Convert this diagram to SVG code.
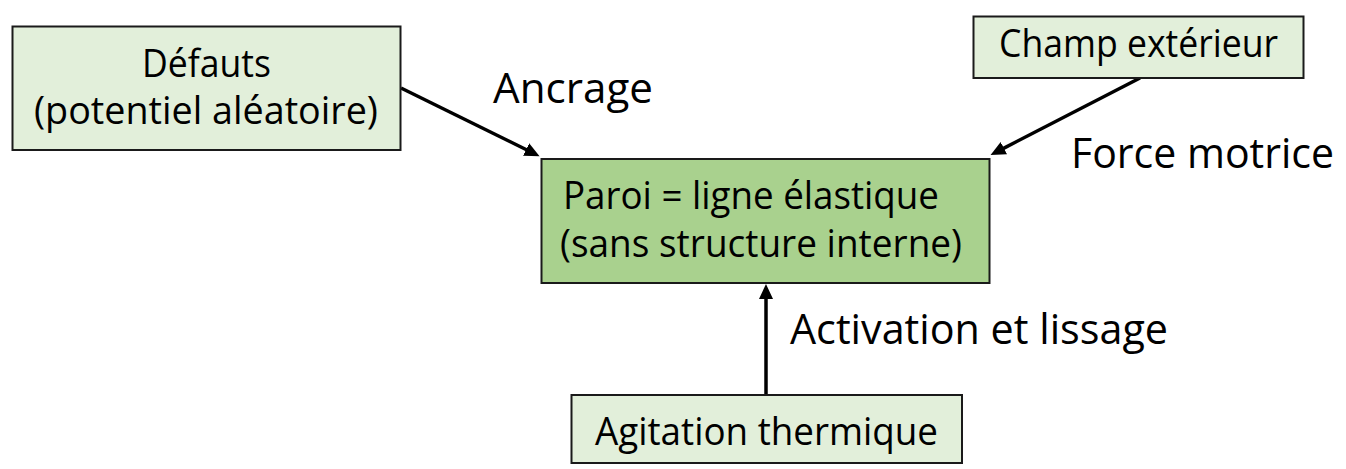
<svg xmlns="http://www.w3.org/2000/svg" width="1346" height="469" viewBox="0 0 1346 469">
<defs>
<style>
.box{stroke:#1a1a1a;stroke-width:2}
.light{fill:#E2EFDA}
.main{fill:#A9D18E}
.t{font-family:"Open Sans","Noto Sans","Liberation Sans",sans-serif;fill:#000}
.bt{font-size:38px}
.lt{font-size:42px}
.conn{stroke:#000;stroke-width:3.5;fill:none}
</style>
<marker id="ah" markerUnits="userSpaceOnUse" markerWidth="16" markerHeight="16" viewBox="0 0 16 16" refX="1" refY="8" orient="auto">
<path d="M0,1 L15,8 L0,15 z" fill="#000"/>
</marker>
</defs>
<rect width="1346" height="469" fill="#fff"/>
<g id="connectors">
<line class="conn" x1="401" y1="88" x2="527" y2="150" marker-end="url(#ah)"/>
<line class="conn" x1="1140" y1="78" x2="1003" y2="148.6" marker-end="url(#ah)"/>
<line class="conn" x1="766" y1="395" x2="766" y2="298" marker-end="url(#ah)"/>
</g>
<g id="defauts">
<rect class="box light" x="12.5" y="26.5" width="388" height="123.5"/>
<text class="t bt" x="142" y="76.5" textLength="129" lengthAdjust="spacingAndGlyphs">Défauts</text>
<text class="t bt" x="34" y="124" textLength="344" lengthAdjust="spacingAndGlyphs">(potentiel aléatoire)</text>
</g>
<g id="champ">
<rect class="box light" x="973.5" y="16.5" width="330" height="61.5"/>
<text class="t bt" x="999" y="56.5" textLength="279" lengthAdjust="spacingAndGlyphs">Champ extérieur</text>
</g>
<g id="paroi">
<rect class="box main" x="541.5" y="159" width="448" height="124"/>
<text class="t bt" x="563" y="208.5" textLength="376" lengthAdjust="spacingAndGlyphs">Paroi = ligne élastique</text>
<text class="t bt" x="560" y="256.5" textLength="402" lengthAdjust="spacingAndGlyphs">(sans structure interne)</text>
</g>
<g id="agitation">
<rect class="box light" x="571.5" y="395" width="390.5" height="68"/>
<text class="t bt" x="595" y="444.5" textLength="343" lengthAdjust="spacingAndGlyphs">Agitation thermique</text>
</g>
<g id="labels">
<text class="t lt" x="493" y="102.5" textLength="160" lengthAdjust="spacingAndGlyphs">Ancrage</text>
<text class="t lt" x="1071" y="167.5" textLength="263" lengthAdjust="spacingAndGlyphs">Force motrice</text>
<text class="t lt" x="790" y="343.5" textLength="378" lengthAdjust="spacingAndGlyphs">Activation et lissage</text>
</g>
</svg>
